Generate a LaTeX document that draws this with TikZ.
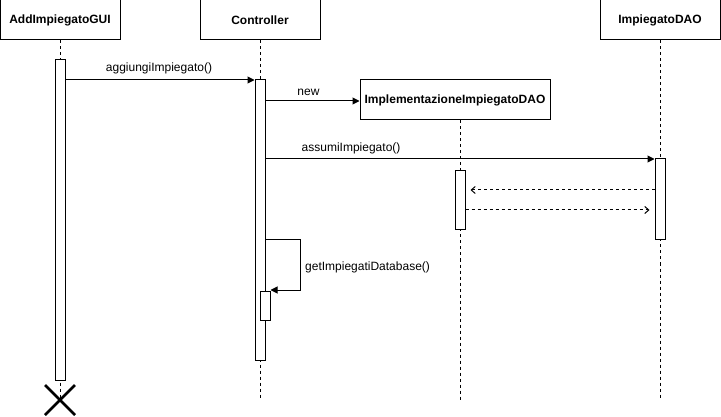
\documentclass[tikz,border=0pt]{standalone}
\usepackage{fontspec}
\setmainfont{Liberation Sans}
\usetikzlibrary{arrows.meta}
\begin{document}
\begin{tikzpicture}[x=1pt,y=-1pt,
  obj/.style={draw,line width=1pt,fill=white,minimum height=40pt,inner sep=0pt,font=\fontsize{12}{14}\selectfont\bfseries},
  act/.style={draw,line width=1pt,fill=white,minimum width=10pt,inner sep=0pt},
  life/.style={line width=1pt,dash pattern=on 3pt off 3pt},
  msg/.style={line width=1pt,-{Triangle[length=7pt,width=7pt]}},
  ret/.style={line width=1pt,dash pattern=on 3pt off 3pt,-{Straight Barb[length=4pt,width=7pt]}},
  lbl/.style={font=\fontsize{12}{14}\selectfont,inner sep=0pt}]
\useasboundingbox (0,0) rectangle (721,417);
% objects
\node[obj,minimum width=120pt] (gui) at (60,20) {AddImpiegatoGUI};
\node[obj,minimum width=120pt] (ctrl) at (260,20) {Controller};
\node[obj,minimum width=190pt] (impl) at (455,100) {ImplementazioneImpiegatoDAO};
\node[obj,minimum width=120pt] (dao) at (660,20) {ImpiegatoDAO};
% lifeline ends
\coordinate (guiEnd) at (60,400);
\coordinate (ctrlEnd) at (260,400);
\coordinate (implEnd) at (460,400);
\coordinate (daoEnd) at (660,400);
\draw[life] (gui.south) -- (guiEnd);
\draw[life] (ctrl.south) -- (ctrlEnd);
\draw[life] (impl.south -| implEnd) -- (implEnd);
\draw[life] (dao.south) -- (daoEnd);
% activations
\node[act,minimum height=320pt] (guiA) at (60,220) {};
\node[act,minimum height=280pt] (ctrlA) at (260,220) {};
\node[act,minimum height=59pt] (implA) at (460,200.5) {};
\node[act,minimum height=81pt] (daoA) at (660,199.5) {};
\node[act,minimum height=29pt] (ctrlB) at (265,305.5) {};
% destruction
\coordinate (xc) at (60,400);
\draw[line width=2.5pt] ([shift={(-15,-15)}]xc) -- ([shift={(15,15)}]xc)
  ([shift={(-15,15)}]xc) -- ([shift={(15,-15)}]xc);
% messages
\draw[msg] (guiA.east |- 0,80) -- node[lbl,above=6pt,xshift=-1pt] {aggiungiImpiegato()} (ctrlA.west |- 0,80);
\draw[msg] (ctrlA.east |- 0,101) -- node[lbl,above=5pt,xshift=-4pt] {new} (impl.west |- 0,101);
\draw[msg] (ctrlA.east |- 0,159) -- node[lbl,above=5pt,pos=0.22] {assumiImpiegato()} (daoA.west |- 0,159);
\draw[ret] (daoA.west |- 0,190) -- ([xshift=5pt]implA.east |- 0,190);
\draw[ret] (implA.east |- 0,210) -- ([xshift=-5pt]daoA.west |- 0,210);
\coordinate (s1) at (300,240);
\coordinate (s2) at (300,290);
\draw[msg] (ctrlA.east |- s1) -- (s1) -- (s2) -- (ctrlB.east |- s2);
\node[lbl,anchor=west] (selflbl) at (305,267) {getImpiegatiDatabase()};
\end{tikzpicture}
\end{document}
